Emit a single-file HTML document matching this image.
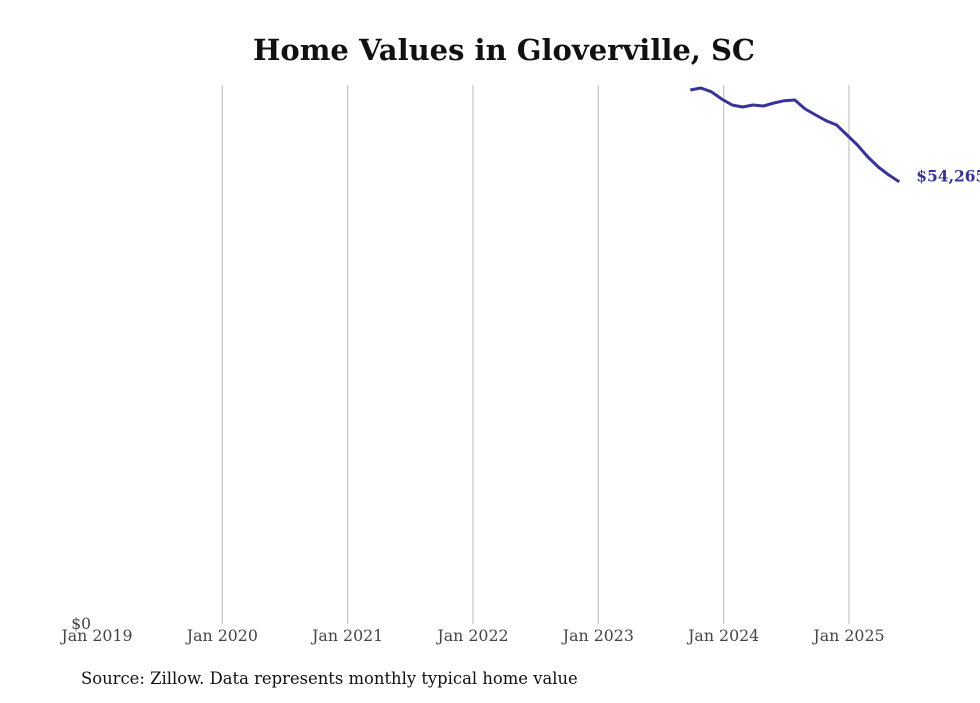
<!DOCTYPE html>
<html><head><meta charset="utf-8"><style>
body{margin:0;background:#fff;width:980px;height:699px;overflow:hidden;font-family:"DejaVu Serif","Liberation Serif",serif;}
</style></head><body>
<svg width="980" height="699">
<text x="504" y="60" text-anchor="middle" font-size="29" font-weight="bold" fill="#111">Home Values in Gloverville, SC</text>
<g id="grid"></g><g id="xt"></g>
<text x="91" y="629" text-anchor="end" font-size="15.5" fill="#444">$0</text>
<path id="ln" fill="none" stroke="#3a3397" stroke-width="3" stroke-linejoin="round"/>
<text id="lab" font-size="15.5" font-weight="bold" fill="#3a3397"></text>
<text x="81" y="684" font-size="16.4" fill="#111">Source: Zillow. Data represents monthly typical home value</text>
</svg>
<script>
const years=["Jan 2019","Jan 2020","Jan 2021","Jan 2022","Jan 2023","Jan 2024","Jan 2025"];
const startMonth=57;
const values=[65516,65762,65308,64412,63676,63430,63676,63553,63921,64203,64290,63185,62449,61750,61222,59995,58768,57296,56069,55088,54265];
const yMax=66130;
const x=m=>97+m*(752/72);
const y=v=>624-v/yMax*539;
const ns="http://www.w3.org/2000/svg";
const g=document.getElementById('grid'),xt=document.getElementById('xt');
years.forEach((t,i)=>{
 if(i>0){const l=document.createElementNS(ns,'line');
 l.setAttribute('x1',x(i*12));l.setAttribute('x2',x(i*12));l.setAttribute('y1',85);l.setAttribute('y2',624);
 l.setAttribute('stroke','#c8c8c8');l.setAttribute('stroke-width','1.3');
 
 
 g.appendChild(l);}
 const tx=document.createElementNS(ns,'text');
 tx.setAttribute('x',x(i*12));tx.setAttribute('y',641);tx.setAttribute('text-anchor','middle');
 tx.setAttribute('font-size','15.8');tx.setAttribute('fill','#444');tx.textContent=t;
 
 
 xt.appendChild(tx);
});
document.getElementById('ln').setAttribute('d',values.map((v,i)=>(i?'L':'M')+(x(startMonth+i)-2).toFixed(1)+','+y(v).toFixed(1)).join(''));
const last=values[values.length-1],lab=document.getElementById('lab');
lab.setAttribute('x',x(startMonth+values.length-1)+15);lab.setAttribute('y',y(last));
lab.textContent='$'+last.toLocaleString('en-US');
</script>
</body></html>
